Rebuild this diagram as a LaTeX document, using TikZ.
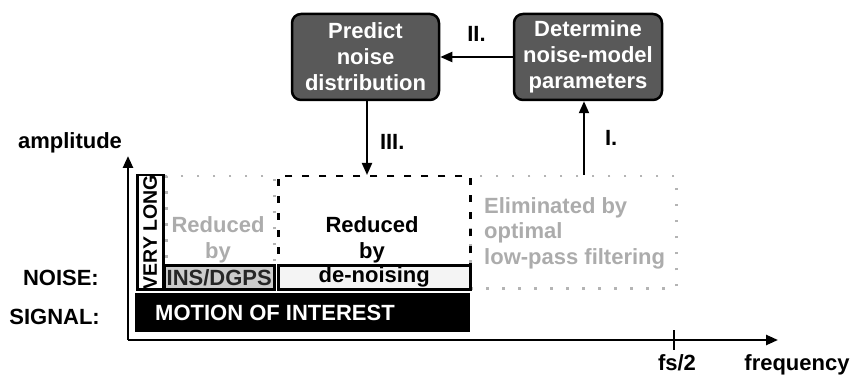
\documentclass[tikz,border=0pt]{standalone}
\usepackage{fontspec}
\setmainfont{Liberation Sans}
\usetikzlibrary{arrows.meta,calc}
\definecolor{boxgray}{HTML}{595959}
\definecolor{lgtext}{HTML}{ACACAC}
\definecolor{dotgray}{HTML}{B4B4B4}
\definecolor{insfill}{HTML}{CCCCCC}
\definecolor{denfill}{HTML}{F4F4F4}
\begin{document}
\begin{tikzpicture}[x=1pt,y=-1pt,
  font=\fontsize{22}{26}\selectfont\bfseries,
  procbox/.style={draw=black, line width=2.5pt, fill=boxgray, rounded corners=9pt,
    text=white, align=center, inner sep=0pt},
  arr/.style={line width=2pt, -{Triangle[length=12pt,width=10pt]}},
  axis/.style={line width=2.5pt, -{Triangle[length=12pt,width=10pt]}},
  plainbox/.style={draw=black, line width=2.5pt, inner sep=0pt, anchor=north west},
  dotbox/.style={draw=dotgray, line width=2.5pt, dash pattern=on 2.5pt off 13.5pt, inner sep=0pt, anchor=north west},
  dashbox/.style={draw=black, line width=2.5pt, dash pattern=on 7pt off 10pt, inner sep=0pt, anchor=north west},
  lbl/.style={inner sep=0pt, text=black}]
\useasboundingbox (0,0) rectangle (852,377);

% process boxes
\node[procbox, minimum width=147pt, minimum height=86pt] (predict) at (365.5,57) {Predict\\noise\\distribution};
\node[procbox, minimum width=148pt, minimum height=86pt] (determine) at (588,57) {Determine\\noise-model\\parameters};

% frequency regions
\node[dotbox, minimum width=108pt, minimum height=89pt] (grayreg) at (165,175) {};
\node[dotbox, minimum width=206pt, minimum height=112pt] (elim) at (469,175) {};
\node[dashbox, minimum width=192pt, minimum height=89pt] (dreg) at (277,175) {};

\node[plainbox, fill=white, minimum width=26pt, minimum height=114pt] (verylong) at (136,174) {};
\node[lbl, rotate=90, font=\fontsize{19.5}{22}\selectfont\bfseries] (vltext) at (verylong.center) {VERY LONG};

\node[plainbox, fill=insfill, minimum width=110pt, minimum height=24pt, text=black!85] (ins) at (163,264) {INS/DGPS};
\node[plainbox, fill=denfill, minimum width=192pt, minimum height=24pt] (den) at (277,264) {de-noising};

\node[draw=black, fill=black, line width=1pt, inner sep=0pt, anchor=north west, minimum width=334pt, minimum height=38pt] (motion) at (135,293) {};
\node[lbl, text=white] (motiontext) at (275,313) {MOTION OF INTEREST};

\node[lbl, text=lgtext, align=center] (redgray) at (218,240) {Reduced\\by};
\node[lbl, align=center] (redblack) at (372,240) {Reduced\\by};
\node[lbl, text=lgtext, align=left, anchor=west, font=\fontsize{22}{25.5}\selectfont\bfseries] (elimtext) at (484,233) {Eliminated by\\optimal\\low-pass filtering};

% axes
\coordinate (O) at (128,340);
\coordinate (ytip) at (128,156);
\coordinate (xtip) at (778,340);
\draw[axis] (O) -- (ytip);
\draw[axis] (O) -- (xtip);
\coordinate (fs) at (674,340);
\draw[line width=2.5pt] ($(fs)+(0,-10)$) -- ($(fs)+(0,10)$);

% axis labels
\node[lbl] (amp) at (70,143) {amplitude};
\node[lbl, anchor=east] (noise) at (99,278) {NOISE:};
\node[lbl, anchor=east] (signal) at (100,317) {SIGNAL:};
\node[lbl, anchor=base] (fslbl) at (677,370) {fs/2};
\node[lbl, anchor=base] (freq) at (797,370) {frequency};

% connectors
\draw[arr] (determine.west) -- (predict.east) node[lbl, midway, above=14pt] (l2) {II.};
\draw[arr] ([xshift=1.5pt]predict.south) -- ([xshift=1.5pt]predict.south |- dreg.north) node[lbl, pos=0.55, right=12pt] (l3) {III.};
\draw[arr] ([xshift=-4pt]determine.south |- elim.north) -- ([xshift=-4pt]determine.south) node[lbl, pos=0.5, right=20pt] (l1) {I.};
\end{tikzpicture}
\end{document}
